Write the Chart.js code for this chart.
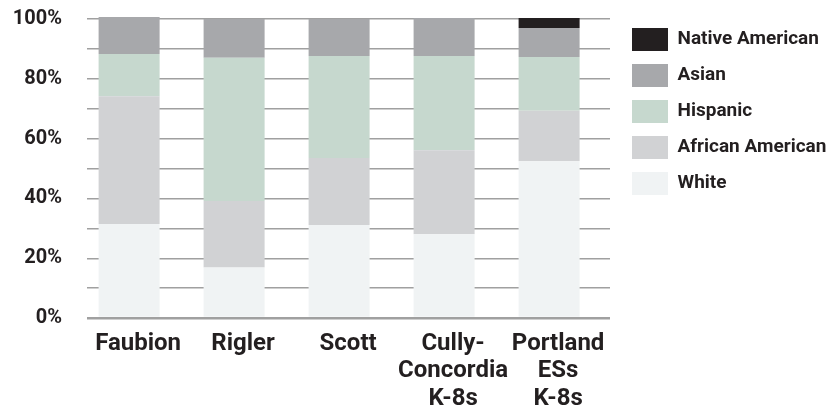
<!DOCTYPE html>
<html>
<head>
<meta charset="utf-8">
<script src="https://cdn.jsdelivr.net/npm/chart.js@4/dist/chart.umd.min.js"></script>
<style>html,body{margin:0;padding:0;background:#fff}</style>
</head>
<body>
<canvas id="c" width="829" height="407"></canvas>
<script>
// ---- data ----
const categories = [["Faubion"], ["Rigler"], ["Scott"], ["Cully-", "Concordia", "K-8s"], ["Portland", "ESs", "K-8s"]];
const white           = [31.4, 16.9, 31.1, 28.0, 52.4];
const africanAmerican = [42.8, 22.2, 22.4, 28.1, 16.9];
const hispanic        = [14.1, 47.9, 34.1, 31.5, 18.0];
const asian           = [12.4, 13.0, 12.4, 12.7,  9.7];
const nativeAmerican  = [ 0.0,  0.0,  0.0,  0.0,  3.3];
const yTickValues     = [0, 20, 40, 60, 80, 100];

const seriesNames  = ["White", "African American", "Hispanic", "Asian", "Native American"];
const seriesValues = [white, africanAmerican, hispanic, asian, nativeAmerican];
const seriesColors = ["#f0f3f4", "#d1d2d4", "#c6d8ce", "#a7a8ab", "#231f20"];

const TEXT = "#231f20";
Chart.defaults.font.family = "Roboto";

const datasets = seriesNames.map((name, s) => ({
  label: name,
  data: seriesValues[s].map((v, i) => ({ x: i, y: v })),
  backgroundColor: seriesColors[s],
  borderWidth: 0,
  categoryPercentage: 1,
  barPercentage: 0.581,
  clip: false
}));

const legendShift = {
  id: "legendShift",
  afterLayout(chart) {
    const lg = chart.legend;
    lg.left = 619;
    lg.right = 829;
    lg.width = 210;
    lg.top = 15;
    lg.bottom = 407;
    lg.height = 392;
  }
};

new Chart(document.getElementById("c"), {
  type: "bar",
  data: { datasets },
  plugins: [legendShift],
  options: {
    responsive: false,
    animation: false,
    devicePixelRatio: 1,
    layout: { padding: { top: 19, right: 19, left: 0, bottom: 0 } },
    plugins: {
      tooltip: { enabled: false },
      legend: {
        position: "right",
        align: "start",
        reverse: true,
        maxWidth: 200,
        labels: {
          boxWidth: 36,
          boxHeight: 23,
          padding: 13,
          color: TEXT,
          font: { family: "Roboto", weight: "bold", size: 19 }
        }
      }
    },
    scales: {
      x: {
        type: "linear",
        stacked: true,
        min: -0.401,
        max: 4.58,
        offset: false,
        grid: { display: false, drawTicks: false },
        border: { display: false },
        afterFit(scale) { scale.height = 89; },
        ticks: {
          stepSize: 1,
          includeBounds: false,
          autoSkip: false,
          maxRotation: 0,
          padding: 12,
          labelOffset: 9,
          color: TEXT,
          font: { family: "Roboto", weight: "bold", size: 24, lineHeight: 1.146 },
          callback: (v) => Number.isInteger(v) && categories[v] ? categories[v] : ""
        }
      },
      y: {
        stacked: true,
        min: 0,
        max: 100,
        border: { display: false },
        afterFit(scale) { scale.width = 87; },
        grid: {
          drawTicks: true,
          tickLength: 25,
          tickColor: "rgba(0,0,0,0)",
          color: "#a0a0a0",
          lineWidth: (ctx) => ctx.tick && ctx.tick.value === 0 ? 2.5 : 1.4
        },
        ticks: {
          stepSize: 10,
          padding: 0,
          color: TEXT,
          font: { family: "Roboto", weight: "bold", size: 20 },
          callback: (v) => yTickValues.includes(v) ? v + "%" : ""
        }
      }
    }
  }
});
</script>
</body>
</html>
